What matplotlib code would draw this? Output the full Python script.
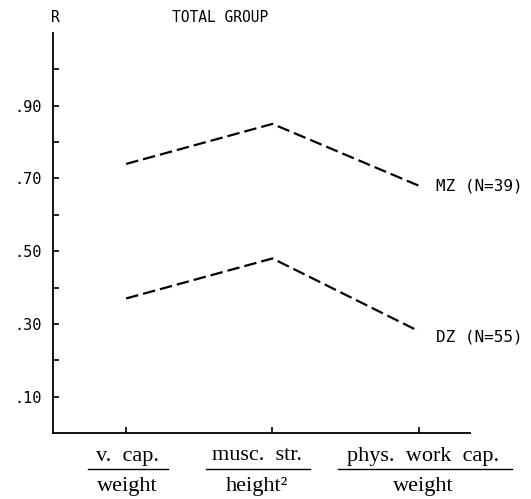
import matplotlib
matplotlib.use("Agg")
import matplotlib.pyplot as plt
from matplotlib.lines import Line2D

plt.rcParams['lines.scale_dashes'] = False

categories_num = ["v.  cap.", "musc.  str.", "phys.  work  cap."]
categories_den = ["weight", "height\u00b2", "weight"]
mz_values = [0.74, 0.85, 0.68]
dz_values = [0.37, 0.48, 0.28]
mz_label = "MZ (N=39)"
dz_label = "DZ (N=55)"
ytick_major = [0.10, 0.30, 0.50, 0.70, 0.90]
ytick_labels = [".10", ".30", ".50", ".70", ".90"]
ytick_minor = [0.20, 0.40, 0.60, 0.80, 1.00]

fig = plt.figure(figsize=(5.31, 4.99), dpi=100)
ax = fig.add_axes([53/531, 1-433/499, (470-53)/531, (433-33)/499])

x = list(range(len(categories_num)))
dash = (9, 3.6)
ax.plot(x, mz_values, color='black', lw=1.6, dashes=dash)
ax.plot(x, dz_values, color='black', lw=1.6, dashes=dash)

ax.set_xlim(-0.5, 2.35)
ax.set_ylim(0, 1.1)
for s in ['top', 'right']:
    ax.spines[s].set_visible(False)
for s in ['left', 'bottom']:
    ax.spines[s].set_linewidth(1.3)

ax.set_yticks(ytick_major)
ax.set_yticklabels(ytick_labels, family='DejaVu Sans Mono', fontsize=11)
ax.set_yticks(ytick_minor, minor=True)
ax.tick_params(axis='y', which='both', direction='in', length=4, width=1.2, pad=8)
ax.set_xticks(x)
ax.set_xticklabels([])
ax.tick_params(axis='x', direction='in', length=4, width=1.2)

# series labels
ax.text(2.12, mz_values[-1], mz_label, family='DejaVu Sans Mono', fontsize=11.5,
        va='center', ha='left')
ax.text(2.12, dz_values[-1] - 0.015, dz_label, family='DejaVu Sans Mono', fontsize=11.5,
        va='center', ha='left')

# header
fig.text(55/531, 1-17/499, "R", family='DejaVu Sans Mono', fontsize=10.5, ha='center', va='center')
fig.text(172/531, 1-17/499, "TOTAL GROUP", family='DejaVu Sans Mono', fontsize=10.5,
         ha='left', va='center')

# fraction labels
centers = [127, 257, 423]
line_spans = [(88, 168), (206, 310), (338, 512)]
for i in range(len(categories_num)):
    cx = centers[i] / 531
    fig.text(cx, 1-456/499, categories_num[i], family='Liberation Serif', fontsize=16,
             ha='center', va='center')
    fig.text(cx, 1-487/499, categories_den[i], family='Liberation Serif', fontsize=16,
             ha='center', va='center')
    x0, x1 = line_spans[i]
    fig.add_artist(Line2D([x0/531, x1/531], [1-469/499, 1-469/499], color='black', lw=1.0,
                          transform=fig.transFigure))

fig.savefig("out.png", dpi=100)
